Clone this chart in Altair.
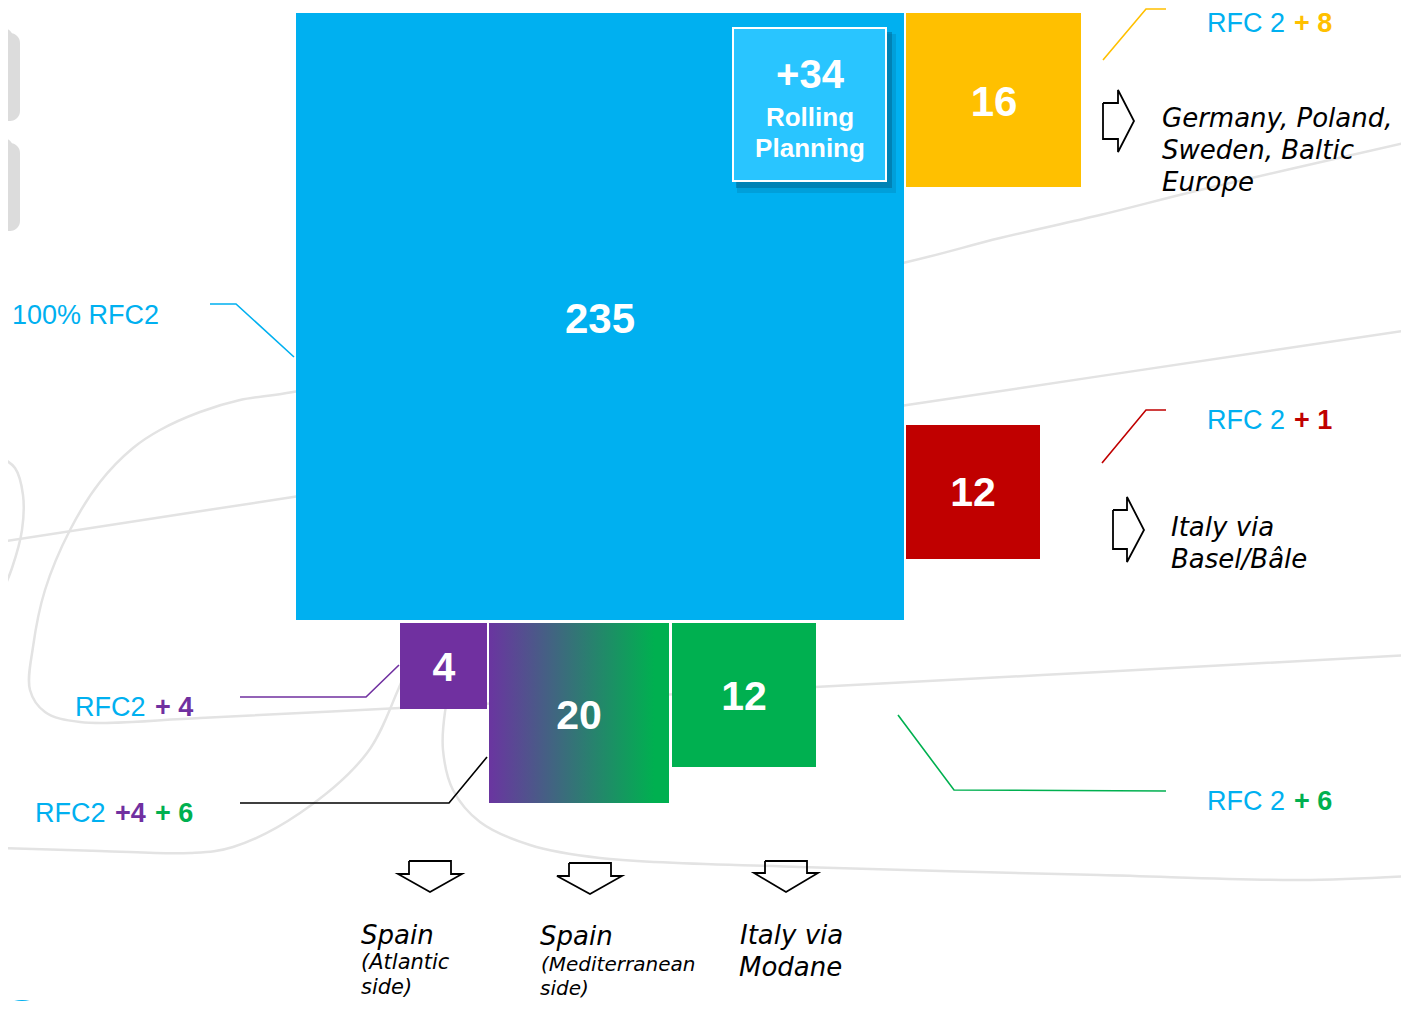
import altair as alt
import pandas as pd

# ---------------- values ----------------
box_names = ["RFC2", "Rolling Planning", "RFC2 +8", "RFC2 +1", "RFC2 +4", "RFC2 +4 +6", "RFC2 +6"]
box_values = [235, 34, 16, 12, 4, 20, 12]
box_labels = ["235", "+34", "16", "12", "4", "20", "12"]

# ---------------- layout (reference pixel coordinates) ----------------
box_x0 = [296, 733, 906, 906, 400, 489, 672]
box_x1 = [904, 886, 1081, 1040, 487, 669, 816]
box_y0 = [13, 28, 13, 425, 623, 623, 623]
box_y1 = [620, 181, 187, 559, 709, 803, 767]
box_fill = ["#00b0f0", "#29c5ff", "#ffc000", "#c00000", "#7030a0", "gradient", "#00b050"]
num_x = [600, 810, 994, 973, 444, 579, 744]
num_y = [320, 76, 103, 494, 669, 717, 698]
num_size = [42, 40, 42, 41, 41, 41, 41]

sub_text = ["Rolling", "Planning"]
sub_x = [810, 810]
sub_y = [118, 149]

# blue (regular) label parts
lab_text = ["100% RFC2", "RFC 2", "RFC 2", "RFC 2", "RFC2", "RFC2"]
lab_x = [12, 1207, 1207, 1207, 75, 35]
lab_y = [316, 24, 421, 802, 708, 814]
# coloured bold label parts
blab_text = ["+ 8", "+ 1", "+ 6", "+ 4", "+4", "+ 6"]
blab_x = [1294, 1294, 1294, 155, 115, 155]
blab_y = [24, 421, 802, 708, 814, 814]
blab_col = ["#ffc000", "#c00000", "#00b050", "#7030a0", "#7030a0", "#00b050"]

# destinations (italic)
dest_text = ["Germany, Poland,", "Sweden, Baltic", "Europe", "Italy via", "Basel/Bâle",
             "Spain", "(Atlantic", "side)", "Spain", "(Mediterranean", "side)",
             "Italy via", "Modane"]
dest_x = [1162, 1162, 1162, 1171, 1171, 361, 361, 361, 540, 541, 540, 740, 739]
dest_y = [119, 151, 183, 528, 560, 936, 963, 988, 937, 965, 989, 936, 968]
dest_size = [26, 26, 26, 26, 26, 26, 21, 21, 26, 20, 20, 26, 26]

# leader lines
leaders = {
    "blue":   ([210, 236, 294], [304, 304, 357], "#00b0f0"),
    "yellow": ([1166, 1146, 1103], [9, 9, 60], "#ffc000"),
    "red":    ([1166, 1146, 1102], [410, 410, 463], "#c00000"),
    "purple": ([240, 366, 399], [697, 697, 665], "#7030a0"),
    "black":  ([240, 449, 487], [803, 803, 757], "#000000"),
    "green":  ([898, 954, 1166], [715, 790, 791], "#00b050"),
}

# block arrows (outline polygons)
arrows = {
    "r1": ([1103, 1118, 1118, 1134, 1118, 1118, 1103, 1103], [103, 103, 90, 121, 152, 139, 139, 103]),
    "r2": ([1113, 1127, 1127, 1144, 1127, 1127, 1113, 1113], [510, 510, 497, 530, 562, 549, 549, 510]),
    "d1": ([409, 451, 451, 462, 430, 398, 409, 409], [861, 861, 874, 874, 892, 874, 874, 861]),
    "d2": ([569, 611, 611, 622, 590, 557, 569, 569], [863, 863, 876, 876, 894, 876, 876, 863]),
    "d3": ([765, 807, 807, 818, 786, 754, 765, 765], [861, 861, 873, 873, 892, 873, 873, 861]),
}

# decorative light-grey background swooshes
curves = {
    "c1": ([1409, 1200, 1100, 1000, 907, 600, 293, 240, 200, 160, 133, 100, 70, 45, 33, 30, 45, 80, 200, 400, 600, 815, 1100, 1409],
           [142, 190, 215, 238, 262, 327, 392, 400, 412, 430, 448, 482, 530, 590, 647, 690, 712, 722, 718, 708, 698, 687, 672, 655]),
    "c2": ([0, 293, 907, 1409], [542, 497, 405, 330]),
    "c3": ([0, 15, 23, 22, 12, 0], [457, 468, 495, 530, 568, 597]),
    "c4": ([410, 398, 367, 300, 233, 190, 100, 0], [660, 690, 753, 813, 847, 853, 851, 848]),
    "c5": ([450, 445, 443, 453, 480, 530, 600, 800, 1100, 1300, 1409],
           [690, 712, 750, 790, 822, 845, 858, 867, 875, 880, 876]),
}

tabs_y0 = [28, 138]
tabs_y1 = [115, 225]

# ---------------- chart ----------------
W, H = 1393, 993
XS = alt.Scale(domain=[8, 8 + W], nice=False, zero=False)
YS = alt.Scale(domain=[8, 8 + H], nice=False, zero=False, reverse=True)


def X(f):
    return alt.X(f, type="quantitative", scale=XS, axis=None)


def Y(f):
    return alt.Y(f, type="quantitative", scale=YS, axis=None)


def poly_df(d, width):
    rows = []
    for k, v in d.items():
        xs, ys = v[0], v[1]
        col = v[2] if len(v) > 2 else "#000000"
        for i, (a, b) in enumerate(zip(xs, ys)):
            rows.append({"id": k, "ord": i, "x": a, "y": b, "c": col, "w": width})
    return pd.DataFrame(rows)


boxes = pd.DataFrame({"name": box_names, "value": box_values, "label": box_labels,
                      "x0": box_x0, "x1": box_x1, "y0": box_y0, "y1": box_y1,
                      "fill": box_fill, "nx": num_x, "ny": num_y, "ns": num_size})

bg = alt.Chart(poly_df(curves, 2.5)).mark_line(interpolate="catmull-rom", color="#e3e3e3", strokeWidth=2.5).encode(
    x=X("x"), y=Y("y"), detail="id:N", order="ord:Q")

tabs = pd.DataFrame({"y0": tabs_y0, "y1": tabs_y1})
tab_shadow = alt.Chart(tabs).transform_calculate(
    sy0="datum.y0 + 5", sy1="datum.y1 + 6").mark_rect(cornerRadius=10, color="#9a9a9a", opacity=0.35).encode(
    x=alt.value(-30), x2=alt.value(12), y=Y("sy0:Q"), y2=alt.Y2("sy1:Q"))
tab_rect = alt.Chart(tabs).mark_rect(cornerRadius=10, color="#dcdcdc").encode(
    x=alt.value(-30), x2=alt.value(5), y=Y("y0:Q"), y2=alt.Y2("y1:Q"))

solid = alt.Chart(boxes).transform_filter(
    "datum.fill != 'gradient' && datum.name != 'Rolling Planning'").mark_rect().encode(
    x=X("x0"), x2=alt.X2("x1"), y=Y("y0"), y2=alt.Y2("y1"),
    color=alt.Color("fill:N", scale=None))

grad = alt.Chart(boxes).transform_filter("datum.fill == 'gradient'").mark_rect(
    fill=alt.LinearGradient(gradient="linear", x1=0, x2=1, y1=0, y2=0,
                            stops=[alt.GradientStop(color="#6a35a0", offset=0),
                                   alt.GradientStop(color="#00b050", offset=0.92)])).encode(
    x=X("x0"), x2=alt.X2("x1"), y=Y("y0"), y2=alt.Y2("y1"))

rp = alt.Chart(boxes).transform_filter("datum.name == 'Rolling Planning'")
rp_shadow2 = rp.transform_calculate(sx0="datum.x0 + 4", sx1="datum.x1 + 10",
                                    sy0="datum.y0 + 6", sy1="datum.y1 + 12").mark_rect(
    color="#006d99", opacity=0.25).encode(x=X("sx0:Q"), x2=alt.X2("sx1:Q"), y=Y("sy0:Q"), y2=alt.Y2("sy1:Q"))
rp_shadow = rp.transform_calculate(sx0="datum.x0 + 3", sx1="datum.x1 + 6",
                                   sy0="datum.y0 + 4", sy1="datum.y1 + 7").mark_rect(
    color="#005f88", opacity=0.45).encode(x=X("sx0:Q"), x2=alt.X2("sx1:Q"), y=Y("sy0:Q"), y2=alt.Y2("sy1:Q"))
rp_box = rp.mark_rect(stroke="white", strokeWidth=2).encode(
    x=X("x0"), x2=alt.X2("x1"), y=Y("y0"), y2=alt.Y2("y1"),
    color=alt.Color("fill:N", scale=None))

lead = alt.Chart(poly_df(leaders, 1.6)).mark_line(strokeWidth=1.6).encode(
    x=X("x"), y=Y("y"), detail="id:N", order="ord:Q", color=alt.Color("c:N", scale=None))
arr = alt.Chart(poly_df(arrows, 1.8)).mark_line(strokeWidth=1.8, color="black", strokeJoin="miter").encode(
    x=X("x"), y=Y("y"), detail="id:N", order="ord:Q")

nums = alt.Chart(boxes).mark_text(font="Liberation Sans", fontWeight="bold", color="white",
                                  align="center", baseline="middle").encode(
    x=X("nx"), y=Y("ny"), text="label:N", size=alt.Size("ns:Q", scale=None))
subs = alt.Chart(pd.DataFrame({"t": sub_text, "x": sub_x, "y": sub_y})).mark_text(
    font="Liberation Sans", fontWeight="bold", color="white", fontSize=26,
    align="center", baseline="middle").encode(x=X("x"), y=Y("y"), text="t:N")

labs = alt.Chart(pd.DataFrame({"t": lab_text, "x": lab_x, "y": lab_y})).mark_text(
    font="Liberation Sans", color="#00b0f0", fontSize=27, align="left", baseline="middle").encode(
    x=X("x"), y=Y("y"), text="t:N")
blabs = alt.Chart(pd.DataFrame({"t": blab_text, "x": blab_x, "y": blab_y, "c": blab_col})).mark_text(
    font="Liberation Sans", fontWeight="bold", fontSize=27, align="left", baseline="middle").encode(
    x=X("x"), y=Y("y"), text="t:N", color=alt.Color("c:N", scale=None))

dest = alt.Chart(pd.DataFrame({"t": dest_text, "x": dest_x, "y": dest_y, "s": dest_size})).mark_text(
    font="DejaVu Sans", fontStyle="italic", color="black", align="left", baseline="middle").encode(
    x=X("x"), y=Y("y"), text="t:N", size=alt.Size("s:Q", scale=None))

dot = alt.Chart(pd.DataFrame({"x": [22], "y": [1030]})).mark_circle(
    color="#00b0f0", opacity=1, size=3600).encode(x=X("x"), y=Y("y"))

chart = alt.layer(bg, tab_shadow, tab_rect, solid, grad, rp_shadow2, rp_shadow, rp_box,
                  lead, arr, nums, subs, labs, blabs, dest, dot).properties(
    width=W, height=H, padding=0, autosize=alt.AutoSizeParams(type="none"),
    background="white").configure_view(stroke=None)

chart.save("out.html", embed_options={"renderer": "svg", "actions": False})
